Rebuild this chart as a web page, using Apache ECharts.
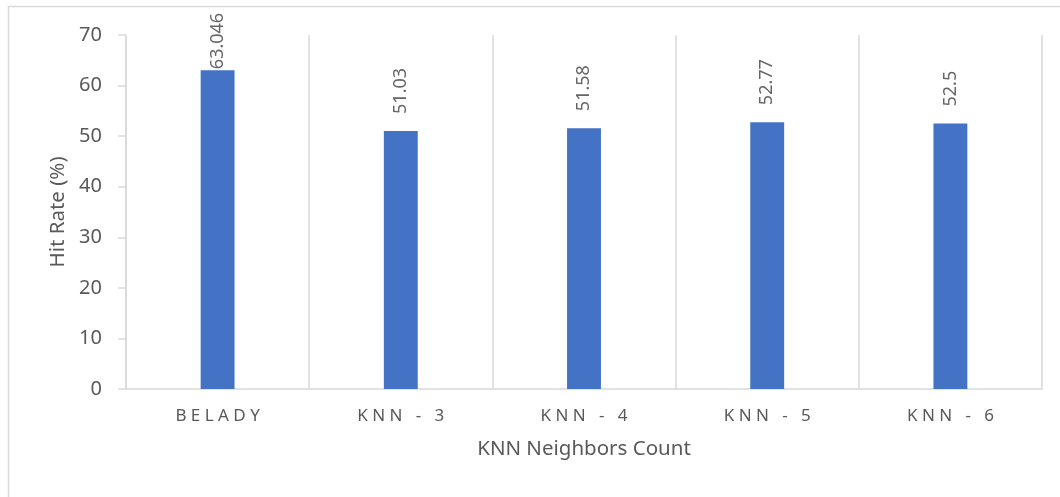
<!DOCTYPE html>
<html>
<head>
<meta charset="utf-8">
<script src="https://cdn.jsdelivr.net/npm/echarts@6/dist/echarts.min.js"></script>
<style>
  html, body { margin: 0; padding: 0; background: #fff; }
  #chart { width: 1060px; height: 497px; }
</style>
</head>
<body>
<div id="chart"></div>
<script>
// Hit rate per replacement policy
const categories = ['BELADY', 'KNN - 3', 'KNN - 4', 'KNN - 5', 'KNN - 6'];
const hitRates = [63.046, 51.03, 51.58, 52.77, 52.5];
const yTicks = { min: 0, max: 70, interval: 10 };

const FONT = '"Noto Sans", "Open Sans", sans-serif';
const GRID_GRAY = '#D9D9D9';
const TEXT_GRAY = '#595959';

// spread letters apart to mimic tracked category text
const spaced = s => s.split('').join(' ');

const chart = echarts.init(document.getElementById('chart'), null, { renderer: 'canvas' });

chart.setOption({
  backgroundColor: '#fff',
  animation: false,
  textStyle: { fontFamily: FONT },
  graphic: [{
    type: 'rect',
    shape: { x: 8.5, y: 6.5, width: 1100, height: 600 },
    style: { fill: 'none', stroke: GRID_GRAY, lineWidth: 1.5 },
    silent: true,
    z: -1
  }],
  grid: { left: 126, right: 18, top: 35, bottom: 108, containLabel: false },
  xAxis: {
    type: 'category',
    data: categories,
    boundaryGap: true,
    name: 'KNN Neighbors Count',
    nameLocation: 'middle',
    nameGap: 50,
    nameTextStyle: { color: TEXT_GRAY, fontSize: 20.5, fontFamily: FONT },
    axisLine: { show: true, lineStyle: { color: GRID_GRAY, width: 1.5 } },
    axisTick: { show: false },
    splitLine: { show: true, interval: 0, lineStyle: { color: GRID_GRAY, width: 1.5 } },
    axisLabel: {
      color: TEXT_GRAY, fontSize: 17, margin: 19, fontFamily: FONT,
      interval: 0,
      formatter: v => spaced(v)
    }
  },
  yAxis: {
    type: 'value',
    min: yTicks.min,
    max: yTicks.max,
    interval: yTicks.interval,
    name: 'Hit Rate (%)',
    nameLocation: 'middle',
    nameGap: 57,
    nameTextStyle: { color: TEXT_GRAY, fontSize: 20.5, fontFamily: FONT },
    axisLine: { show: true, lineStyle: { color: GRID_GRAY, width: 1.5 } },
    axisTick: { show: true, length: 8, lineStyle: { color: GRID_GRAY, width: 1.5 } },
    splitLine: { show: false },
    axisLabel: { color: TEXT_GRAY, fontSize: 20, margin: 24, fontFamily: FONT }
  },
  series: [{
    type: 'bar',
    barWidth: '18.5%',
    itemStyle: { color: '#4472C4' },
    label: {
      show: true,
      position: 'top',
      rotate: 90,
      align: 'left',
      verticalAlign: 'middle',
      distance: 17,
      color: '#666666',
      fontSize: 18,
      fontFamily: FONT,
      formatter: p => String(p.value)
    },
    data: hitRates.map((v, i) => i === 0
      ? { value: v, label: { distance: 1 } }
      : v)
  }]
});
</script>
</body>
</html>
